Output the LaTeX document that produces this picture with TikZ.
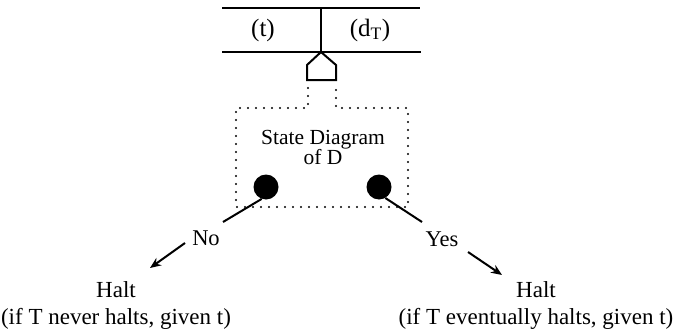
\documentclass[tikz,border=0pt]{standalone}
\usepackage{fontspec}
\setmainfont{Liberation Serif}
\usetikzlibrary{arrows.meta}
\begin{document}
\begin{tikzpicture}[x=1pt,y=-1pt,
  txt/.style={inner sep=0pt,font=\fontsize{21.5}{24}\selectfont,align=center},
  tapetxt/.style={inner sep=0pt,font=\fontsize{25}{28}\selectfont},
  lbl/.style={inner sep=0pt,font=\fontsize{22.5}{24}\selectfont},
  halttxt/.style={inner sep=0pt,font=\fontsize{23}{27}\selectfont,align=center},
  solidline/.style={line width=2pt},
  dotline/.style={line width=2.4pt,line cap=round,dash pattern=on 0pt off 8pt},
  dotnode/.style={circle,fill=black,minimum size=25pt,inner sep=0pt},
  arr/.style={line width=2pt,-{Stealth[length=11pt,width=9pt]}}]
\useasboundingbox (0,0) rectangle (684,329);
% tape
\draw[solidline] (222,8) -- (420,8);
\draw[solidline] (222,52) -- (421,52);
\draw[solidline] (321,8) -- (321,52);
\node[tapetxt] (cellt) at (263,30) {(t)};
\node[tapetxt] (celld) at (370,30) {(d\textsubscript{T})};
% head
\draw[solidline,line join=miter] (321,52) -- (336,65) -- (336,80) -- (307,80) -- (307,65) -- cycle;
% dotted box
\draw[dotline] (308,88) -- (308,108) -- (236,108) -- (236,207) -- (408,207) -- (408,108) -- (336,108) -- (336,88);
\node[txt] (sd) at (323,147) {State Diagram\\[-4pt]of D};
% dots
\node[dotnode] (dotL) at (266,187) {};
\node[dotnode] (dotR) at (379,187) {};
% labels
\node[lbl] (no) at (206,238) {No};
\node[lbl] (yes) at (442,239) {Yes};
\coordinate (noIn) at (223,222);
\coordinate (yesIn) at (422,222);
\coordinate (noOut) at (185,243);
\coordinate (yesOut) at (468,252);
\coordinate (haltLIn) at (150,268);
\coordinate (haltRIn) at (502,275);
\draw[solidline] (dotL.-110) -- (noIn);
\draw[solidline] (dotR.-60) -- (yesIn);
\draw[arr] (noOut) -- (haltLIn);
\draw[arr] (yesOut) -- (haltRIn);
\node[halttxt] (haltL) at (116,305) {Halt\\(if T never halts, given t)};
\node[halttxt] (haltR) at (536,305) {Halt\\(if T eventually halts, given t)};
\end{tikzpicture}
\end{document}
